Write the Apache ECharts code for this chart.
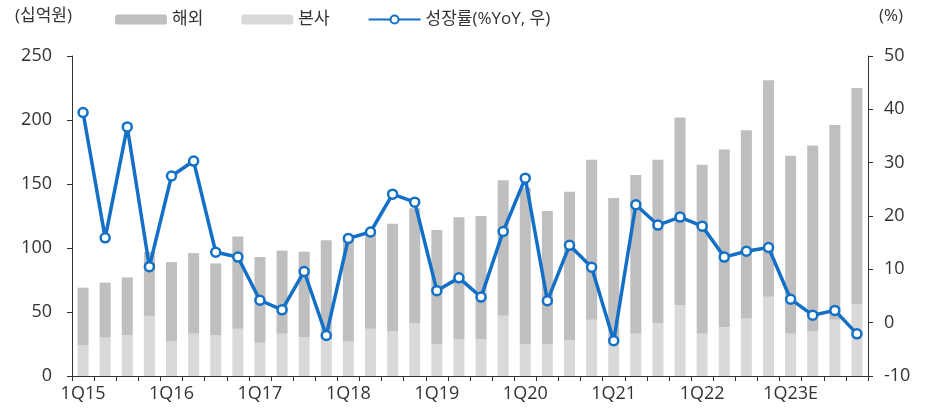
<!DOCTYPE html>
<html>
<head>
<meta charset="utf-8">
<script src="https://cdn.jsdelivr.net/npm/echarts@6/dist/echarts.min.js"></script>
<style>
  html, body { margin: 0; padding: 0; background: #fff; }
  #chart { width: 925px; height: 409px; }
</style>
</head>
<body>
<div id="chart"></div>
<script>
// 분기 라벨
var quarters = [
  '1Q15','2Q15','3Q15','4Q15','1Q16','2Q16','3Q16','4Q16',
  '1Q17','2Q17','3Q17','4Q17','1Q18','2Q18','3Q18','4Q18',
  '1Q19','2Q19','3Q19','4Q19','1Q20','2Q20','3Q20','4Q20',
  '1Q21','2Q21','3Q21','4Q21','1Q22','2Q22','3Q22','4Q22',
  '1Q23E','2Q23E','3Q23E','4Q23E'
];
// 본사 (십억원)
var headOffice = [24,30,32,47,27,33,32,37,26,33,30,29,27,37,35,41,25,29,29,47,25,25,28,44,26,33,41,55,33,38,45,62,33,35,44,56];
// 해외 (십억원)
var overseas = [45,43,45,50,62,63,56,72,67,65,67,77,80,75,84,90,89,95,96,106,122,104,116,125,113,124,128,147,132,139,147,169,139,145,152,169];
// 성장률 (%YoY)
var growth = [39.4,15.9,36.7,10.5,27.5,30.3,13.2,12.3,4.2,2.4,9.6,-2.4,15.8,17.0,24.1,22.6,6.0,8.4,4.8,17.1,27.1,4.1,14.5,10.4,-3.4,22.1,18.3,19.8,18.1,12.3,13.4,14.1,4.4,1.4,2.3,-2.1];

var font = '"Open Sans", "Noto Sans CJK KR", sans-serif';
var textColor = '#333';
var axisColor = '#333';

var chart = echarts.init(document.getElementById('chart'));
var option = {
  animation: false,
  textStyle: { fontFamily: font },
  grid: { left: 72, right: 57, top: 56, bottom: 33 },
  legend: {
    left: 110,
    top: 6,
    itemWidth: 52,
    itemHeight: 10,
    itemGap: 38,
    textStyle: { fontSize: 17, color: textColor, fontFamily: font },
    data: ['해외', '본사', '성장률(%YoY, 우)']
  },
  xAxis: {
    type: 'category',
    data: quarters,
    axisLine: { lineStyle: { color: axisColor } },
    axisTick: { show: true, length: 5, interval: 0, lineStyle: { color: axisColor } },
    axisLabel: { interval: 3, color: textColor, fontSize: 18, margin: 9, fontFamily: font }
  },
  yAxis: [
    {
      type: 'value',
      min: 0, max: 250, interval: 50,
      name: '(십억원)',
      nameLocation: 'end',
      nameGap: 31,
      nameTextStyle: { color: textColor, fontSize: 17, align: 'right', fontFamily: font },
      axisLine: { show: true, lineStyle: { color: axisColor } },
      axisTick: { show: true, length: 5, lineStyle: { color: axisColor } },
      axisLabel: { color: textColor, fontSize: 18, margin: 20, fontFamily: font },
      splitLine: { show: false }
    },
    {
      type: 'value',
      min: -10, max: 50, interval: 10,
      name: '(%)',
      nameLocation: 'end',
      nameGap: 31,
      nameTextStyle: { color: textColor, fontSize: 17, align: 'left', padding: [0, 0, 0, 11], fontFamily: font },
      axisLine: { show: true, lineStyle: { color: axisColor } },
      axisTick: { show: true, length: 5, lineStyle: { color: axisColor } },
      axisLabel: { color: textColor, fontSize: 18, margin: 16, fontFamily: font },
      splitLine: { show: false }
    }
  ],
  series: [
    {
      name: '본사',
      type: 'bar',
      stack: 'sales',
      barWidth: 11,
      itemStyle: { color: '#D9D9D9' },
      data: headOffice
    },
    {
      name: '해외',
      type: 'bar',
      stack: 'sales',
      barWidth: 11,
      itemStyle: { color: '#BFBFBF' },
      data: overseas
    },
    {
      name: '성장률(%YoY, 우)',
      type: 'line',
      yAxisIndex: 1,
      symbol: 'circle',
      symbolSize: 9,
      lineStyle: { color: '#1370C6', width: 3.5 },
      itemStyle: { color: '#fff', borderColor: '#1370C6', borderWidth: 2.5 },
      data: growth,
      z: 5
    }
  ]
};
chart.setOption(option);
</script>
</body>
</html>
